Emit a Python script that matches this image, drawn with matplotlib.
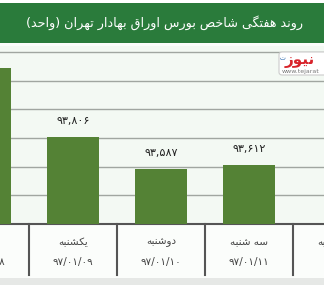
import matplotlib
matplotlib.use("Agg")
import matplotlib.pyplot as plt
from matplotlib.patches import Rectangle, FancyBboxPatch

# ---------------- data ----------------
title = "روند هفتگی شاخص بورس اوراق بهادار تهران (واحد)"
days = ["شنبه", "یکشنبه", "دوشنبه", "سه شنبه", "چهارشنبه"]
dates = ["۹۷/۰۱/۰۸", "۹۷/۰۱/۰۹", "۹۷/۰۱/۱۰", "۹۷/۰۱/۱۱", ""]
values = [94290, 93806, 93587, 93612, None]
value_labels = ["۹۴,۲۹۰", "۹۳,۸۰۶", "۹۳,۵۸۷", "۹۳,۶۱۲", ""]
y_ticks = [93200, 93400, 93600, 93800, 94000, 94200, 94400]

# ---------------- minimal Arabic/Persian shaping ----------------
FORMS = {  # iso, fin, init, med
    'ا': ('\uFE8D', '\uFE8E', None, None),
    'ب': ('\uFE8F', '\uFE90', '\uFE91', '\uFE92'),
    'ت': ('\uFE95', '\uFE96', '\uFE97', '\uFE98'),
    'ج': ('\uFE9D', '\uFE9E', '\uFE9F', '\uFEA0'),
    'ح': ('\uFEA1', '\uFEA2', '\uFEA3', '\uFEA4'),
    'خ': ('\uFEA5', '\uFEA6', '\uFEA7', '\uFEA8'),
    'د': ('\uFEA9', '\uFEAA', None, None),
    'ر': ('\uFEAD', '\uFEAE', None, None),
    'ز': ('\uFEAF', '\uFEB0', None, None),
    'س': ('\uFEB1', '\uFEB2', '\uFEB3', '\uFEB4'),
    'ش': ('\uFEB5', '\uFEB6', '\uFEB7', '\uFEB8'),
    'ص': ('\uFEB9', '\uFEBA', '\uFEBB', '\uFEBC'),
    'ف': ('\uFED1', '\uFED2', '\uFED3', '\uFED4'),
    'ق': ('\uFED5', '\uFED6', '\uFED7', '\uFED8'),
    'ن': ('\uFEE5', '\uFEE6', '\uFEE7', '\uFEE8'),
    'ه': ('\uFEE9', '\uFEEA', '\uFEEB', '\uFEEC'),
    'و': ('\uFEED', '\uFEEE', None, None),
    'ی': ('\uFBFC', '\uFBFD', '\uFBFE', '\uFBFF'),
    'ک': ('\uFB8E', '\uFB8F', '\uFB90', '\uFB91'),
    'گ': ('\uFB92', '\uFB93', '\uFB94', '\uFB95'),
    'چ': ('\uFB7A', '\uFB7B', '\uFB7C', '\uFB7D'),
}
MIRROR = {'(': ')', ')': '('}


def dual(c):
    return c in FORMS and FORMS[c][2] is not None


def shape(text):
    out = []
    for i, c in enumerate(text):
        if c not in FORMS:
            out.append(c)
            continue
        prev = text[i - 1] if i > 0 else ''
        nxt = text[i + 1] if i + 1 < len(text) else ''
        pc = dual(prev)
        nc = dual(c) and nxt in FORMS
        iso, fin, ini, med = FORMS[c]
        if pc and nc:
            out.append(med)
        elif pc:
            out.append(fin)
        elif nc:
            out.append(ini)
        else:
            out.append(iso)
    return ''.join(MIRROR.get(c, c) for c in reversed(out))


# ---------------- figure ----------------
W, H = 324, 285
fig = plt.figure(figsize=(W / 100, H / 100), dpi=100)
fig.patch.set_facecolor("#fbfdfb")


def fy(px):
    return 1 - px / H


# banner
fig.patches.append(Rectangle((0, fy(43)), 1, fy(3) - fy(43), transform=fig.transFigure,
                             facecolor="#2a7b3b", edgecolor="none", zorder=0))
fig.patches.append(Rectangle((0, fy(3)), 1, fy(0) - fy(3), transform=fig.transFigure,
                             facecolor="#ffffff", edgecolor="none", zorder=0))
fig.text(164 / W, fy(23), shape(title), color="white", fontsize=9.2,
         family="DejaVu Sans", ha="center", va="center")
# bottom gray strip
fig.patches.append(Rectangle((0, 0), 1, fy(278), transform=fig.transFigure,
                             facecolor="#e6e8e6", edgecolor="none", zorder=0))

ax = fig.add_axes([0, fy(224), 1, fy(46) - fy(224)])
ax.set_facecolor("#f3f9f3")
x = list(range(len(days)))
bx = [i for i, v in zip(x, values) if v is not None]
bv = [v for v in values if v is not None]
ax.bar(bx, bv, width=0.59, color="#548235", zorder=3)

ax.set_xlim(0.1705, 3.852)
ax.set_ylim(93200, 94442)
ax.set_yticks(y_ticks)
ax.yaxis.grid(True, color="#a0a6a0", linewidth=1.0, zorder=1)
ax.tick_params(left=False, bottom=False, labelleft=False, labelbottom=False)
for s in ["left", "right", "top"]:
    ax.spines[s].set_visible(False)
ax.spines["bottom"].set_color("#555555")
ax.spines["bottom"].set_linewidth(1.5)

for i, v, lab in zip(x, values, value_labels):
    if v is None:
        continue
    ax.annotate(lab, (i, v), xytext=(0, 11.5), textcoords="offset points",
                ha="center", va="center", fontsize=8, color="#222222",
                family="DejaVu Sans")

tr = ax.get_xaxis_transform()
for i, d, dt in zip(x, days, dates):
    ax.text(i, -0.101, shape(d), transform=tr, ha="center", va="center",
            fontsize=7.5, color="#444444", family="DejaVu Sans", clip_on=False)
    if dt:
        ax.text(i, -0.213, dt, transform=tr, ha="center", va="center",
                fontsize=7.5, color="#444444", family="DejaVu Sans", clip_on=False)
for i in x[:-1]:
    ax.plot([i + 0.5, i + 0.5], [0, -0.287], transform=tr, color="#555555",
            linewidth=1.5, clip_on=False, zorder=5)

# logo watermark
fig.patches.append(FancyBboxPatch((279 / W, fy(75)), 60 / W, (fy(52) - fy(75)),
                                  boxstyle="round,pad=0,rounding_size=0.01",
                                  transform=fig.transFigure, facecolor="white",
                                  edgecolor="#cccccc", linewidth=0.8, zorder=4))
fig.text(285 / W, fy(61), shape("نیوز"), color="#d8232a", fontsize=11,
         fontweight="bold", family="DejaVu Sans", ha="left", va="center", zorder=5)
fig.text(279.5 / W, fy(59), shape("ت"), color="#1d5fa8", fontsize=4.5,
         family="DejaVu Sans", ha="left", va="center", zorder=5)
fig.text(282 / W, fy(71), "www.tejarat", color="#777777", fontsize=4.5,
         family="DejaVu Sans", ha="left", va="center", zorder=5)

fig.savefig("out.png", dpi=100, facecolor=fig.get_facecolor())
